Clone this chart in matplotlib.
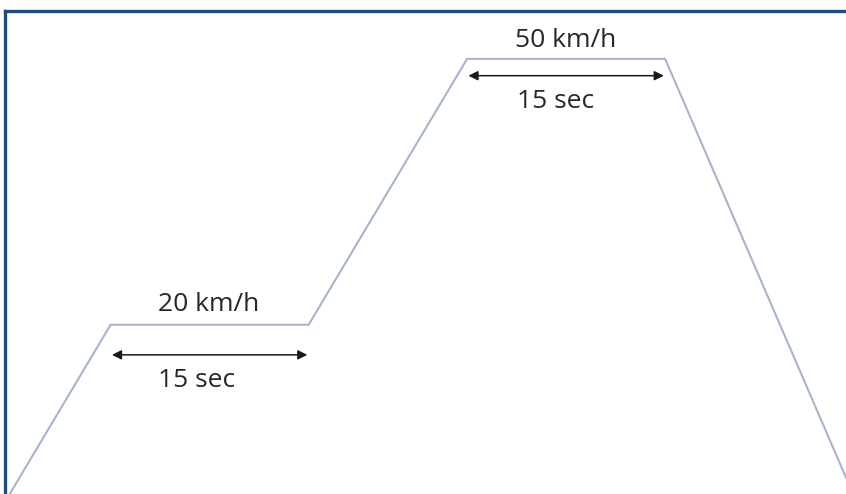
import matplotlib
matplotlib.use("Agg")
import matplotlib.pyplot as plt

# Speed profile (time in s, speed in km/h)
times = [0, 8, 23, 35, 50, 64.5]
speeds = [0, 20, 20, 50, 50, 0]

# Annotations
speed_labels = ["20 km/h", "50 km/h"]
duration_labels = ["15 sec", "15 sec"]
plateaus = [(8, 23, 20), (35, 50, 50)]

# layout offsets (km/h units) for label / arrow / duration text
offsets = [(2.3, -3.4, -6.3), (2.1, -1.9, -4.8)]
dur_dx = [-1.0, -0.8]
lab_dx = [-0.1, 0.0]

W, H = 846, 494
fig = plt.figure(figsize=(W / 100, H / 100), dpi=100)
ax = fig.add_axes([5 / W, 0, (W - 5) / W, (H - 11) / H])

ax.plot(times, speeds, color="#A7B4CB", lw=1.5, solid_joinstyle="miter")

ax.set_xlim(0, 63.7)
ax.set_ylim(0.9, 55.4)

for (t0, t1, v), sl, dl, (lo, ao, do), ddx, ldx in zip(
        plateaus, speed_labels, duration_labels, offsets, dur_dx, lab_dx):
    ax.text((t0 + t1) / 2 + ldx, v + lo, sl, ha="center", va="center",
            fontsize=19, color="#262626", family="Open Sans")
    ax.annotate("", xy=(t1 - 0.1, v + ao), xytext=(t0 + 0.1, v + ao),
                arrowprops=dict(arrowstyle="<|-|>", color="#1a1a1a", lw=1.1,
                                mutation_scale=14, shrinkA=0, shrinkB=0))
    ax.text((t0 + t1) / 2 + ddx, v + do, dl, ha="center", va="center",
            fontsize=19, color="#262626", family="Open Sans")

for s in ["right", "bottom"]:
    ax.spines[s].set_visible(False)
for s in ["top", "left"]:
    ax.spines[s].set_color("#1F4E79")
    ax.spines[s].set_linewidth(2.4)
ax.set_xticks([])
ax.set_yticks([])

fig.savefig("out.png", dpi=100)
